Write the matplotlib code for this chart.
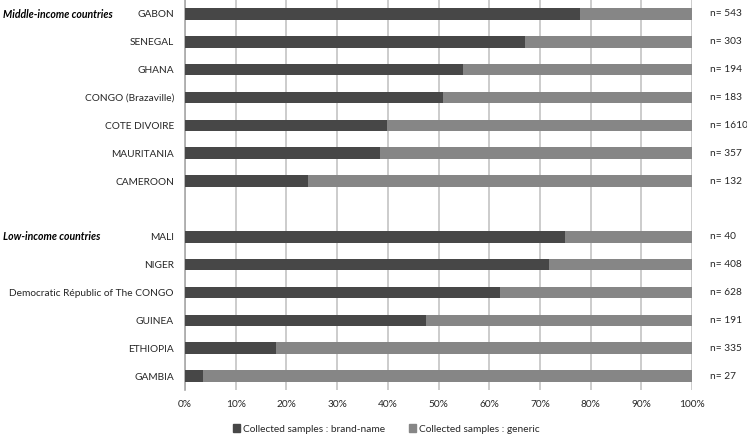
import matplotlib

matplotlib.use("Agg")
import matplotlib.pyplot as plt
from matplotlib.patches import Patch

plt.rcParams["font.family"] = ["Lato", "DejaVu Sans"]

# Middle-income then low-income countries (top to bottom)
MIDDLE = ["GABON", "SENEGAL", "GHANA", "CONGO (Brazaville)", "COTE DIVOIRE",
          "MAURITANIA", "CAMEROON"]
MIDDLE_BRAND = [77.9, 67.0, 54.8, 50.8, 39.9, 38.4, 24.2]
MIDDLE_N = [543, 303, 194, 183, 1610, 357, 132]

LOW = ["MALI", "NIGER", "Democratic Républic of The CONGO", "GUINEA",
       "ETHIOPIA", "GAMBIA"]
LOW_BRAND = [75.0, 71.8, 62.1, 47.6, 17.9, 3.6]
LOW_N = [40, 408, 628, 191, 335, 27]

DARK = "#474747"
LIGHT = "#868686"
GRID = "#c4c4c4"
TXT = "#262626"
FS = 7.3

labels = MIDDLE + LOW
brand = MIDDLE_BRAND + LOW_BRAND
generic = [100 - b for b in brand]
counts = MIDDLE_N + LOW_N
# one empty slot between the two groups
pos = list(range(len(MIDDLE))) + [len(MIDDLE) + 1 + i for i in range(len(LOW))]

fig = plt.figure(figsize=(7.47, 4.36), dpi=100)
ax = fig.add_axes([0.2477, 0.1055, 0.6787, 0.8945])

ax.barh(pos, brand, height=0.42, color=DARK, zorder=3)
ax.barh(pos, generic, left=brand, height=0.42, color=LIGHT, zorder=3)

ax.set_xlim(0, 100)
ax.set_ylim(len(labels) + 0.5, -0.5)
ax.set_xticks(range(0, 101, 10))
ax.set_xticklabels([f"{v}%" for v in range(0, 101, 10)], fontsize=FS, color=TXT)
ax.set_yticks(pos)
ax.set_yticklabels(labels, fontsize=FS, color=TXT)
ax.tick_params(length=0, pad=8)
ax.tick_params(axis="x", pad=7)
ax.grid(axis="x", color=GRID, lw=1.2, zorder=0)
for side in ["top", "right", "bottom"]:
    ax.spines[side].set_visible(False)
ax.spines["left"].set_color("#a8a8a8")
ax.spines["left"].set_linewidth(1.2)

for p, n in zip(pos, counts):
    ax.text(103.6, p, f"n= {n}", fontsize=FS, color=TXT, va="center", ha="left",
            clip_on=False)

fig.text(0.004, 1 - 14 / 436, "Middle-income countries", fontsize=7.6,
         fontweight="bold", fontstyle="italic", va="center", ha="left", color="black")
fig.text(0.004, 1 - 236 / 436, "Low-income countries", fontsize=7.6,
         fontweight="bold", fontstyle="italic", va="center", ha="left", color="black")

handles = [Patch(color=DARK, label="Collected samples : brand-name"),
           Patch(color=LIGHT, label="Collected samples : generic")]
fig.legend(handles=handles, loc="center", bbox_to_anchor=(0.517, 1 - 429 / 436),
           ncol=2, frameon=False, fontsize=FS, handlelength=0.7, handleheight=0.7,
           handletextpad=0.3, columnspacing=2.4, labelcolor=TXT)

fig.savefig("out.png", dpi=100)
